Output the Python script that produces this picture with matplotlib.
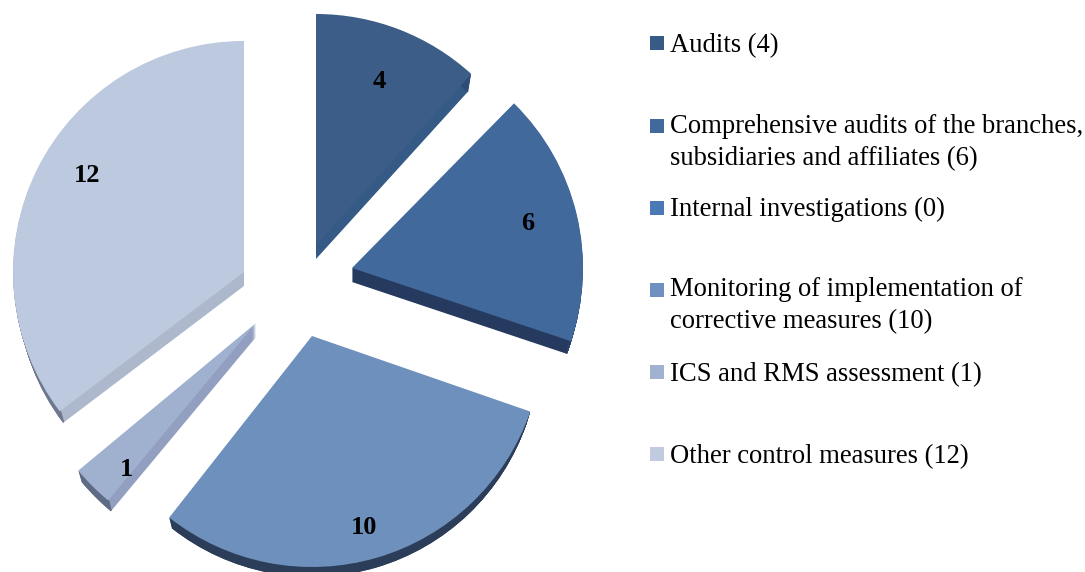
# %%
import matplotlib
matplotlib.use("Agg")
import matplotlib.pyplot as plt
from matplotlib.patches import Rectangle, Wedge

plt.rcParams['font.family'] = ['Liberation Serif', 'DejaVu Serif']

# %%
# Data
values = [4, 6, 0, 10, 1, 12]
legend_labels = ['Audits (4)',
                 'Comprehensive audits of the branches,\nsubsidiaries and affiliates (6)',
                 'Internal investigations (0)',
                 'Monitoring of implementation of\ncorrective measures (10)',
                 'ICS and RMS assessment (1)',
                 'Other control measures (12)']

# %%
# Layout + colours (pixels, y from the top of the image)
W, H = 1085, 572
radius = 231
depth = 14
shrink = 0.3  # bottom face is a bit smaller (perspective)
apex_px = [(316, 245), (352, 268), (312, 336), (312, 336), (256, 323), (244, 272)]
label_px = [(379, 81), (528, 223), None, (364, 527), (127, 469), (87, 175)]
# small angle shifts (deg, clockwise) for the perspective of the original
start_nudge = [0, 0.9, -1.0, 0, 1.6, 3.8]
end_nudge = [-1.4, -0.6, 0.9, 0, 1.2, 0]

top_colors = ['#3c5d88', '#41699b', '#4a7ab5', '#6e90bc', '#a0b1d0', '#bdc9de']
side_colors = ['#365a86', '#253a5e', '#2f4d78', '#2c3d59', '#929fc0', '#aeb8cd']
arc_colors = ['#2e4c74', '#2b4368', '#2f4d78', '#2c3d59', '#5f6a85', '#6f7890']
legend_colors = ['#375a87', '#41699c', '#4a7ab5', '#6f90c0', '#a0b1d2', '#c0cbe0']

legend_x = 650
legend_sq = 14
legend_y = [43, 126, 208, 290, 372, 454]
baseline_y = [52, 165, 216, 328, 381, 463]  # last line of each entry

# %%
fig = plt.figure(figsize=(W / 100, H / 100), dpi=100)
ax = fig.add_axes([0, 0, 1, 1])

wedges, _ = ax.pie(values, colors=top_colors, startangle=90, counterclock=False,
                   radius=radius, center=(W / 2, H / 2), frame=True)
ax.set_aspect('auto')
ax.set_xlim(0, W)
ax.set_ylim(0, H)
ax.axis('off')

# %%
# Move every slice to its own apex and extrude it downwards
for i, w in enumerate(wedges):
    if values[i] == 0:
        w.set_visible(False)
        continue
    cx, cy = apex_px[i][0], H - apex_px[i][1]
    # clockwise pie: theta2 is the start of the slice, theta1 its end
    w.set_theta1(w.theta1 - end_nudge[i])
    w.set_theta2(w.theta2 - start_nudge[i])
    w.set_center((cx, cy))
    w.set_zorder(5)
    w.set_linewidth(0)
    for d in range(1, depth + 1):
        r = radius - shrink * d
        ax.add_patch(Wedge((cx, cy - d), r, w.theta1, w.theta2,
                           facecolor=side_colors[i], linewidth=0, zorder=3))
        ax.add_patch(Wedge((cx, cy - d), r, w.theta1, w.theta2, width=1.5,
                           facecolor=arc_colors[i], linewidth=0, zorder=4))

# %%
for i, pos in enumerate(label_px):
    if pos is None:
        continue
    ax.text(pos[0], H - pos[1], str(values[i]), ha='center', va='center',
            fontsize=19, fontweight='bold', color='black', zorder=6)

# %%
# Legend
for c, y, by, lab in zip(legend_colors, legend_y, baseline_y, legend_labels):
    ax.add_patch(Rectangle((legend_x, H - y - legend_sq / 2), legend_sq, legend_sq,
                           facecolor=c, linewidth=0))
    ax.text(legend_x + 20, H - by, lab, ha='left', va='baseline', fontsize=19.2,
            linespacing=1.38, color='black')

fig.savefig('out.png', dpi=100)
